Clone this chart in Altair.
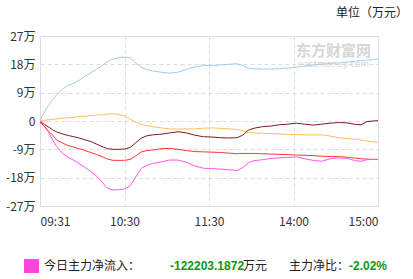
import altair as alt
import pandas as pd

minutes = [0, 3, 6, 9, 12, 16, 20, 24, 28, 32, 36, 40, 44, 48, 52, 56, 60, 64, 68, 72, 76, 80, 86, 92, 98,
           104, 110, 116, 122, 128, 134, 140, 144, 148, 152, 158, 164, 170, 176, 182, 188, 194, 200, 206,
           212, 218, 224, 228, 232, 236, 240]

small = [0.3, 2.8, 5.0, 6.8, 8.4, 10.2, 11.3, 12.0, 13.0, 14.2, 15.3, 16.4, 17.6, 18.9, 19.7, 20.1, 20.3,
         20.1, 18.4, 17.0, 16.3, 15.9, 15.5, 15.2, 15.5, 16.4, 17.2, 17.6, 17.6, 17.8, 18.0, 18.2, 17.6,
         16.8, 16.6, 16.5, 16.5, 16.6, 16.8, 17.1, 17.4, 17.8, 18.1, 18.3, 18.5, 18.7, 19.0, 19.2, 19.3,
         19.5, 19.7]
medium = [0.0, 0.2, 0.4, 0.5, 0.7, 0.9, 1.0, 1.2, 1.4, 1.5, 1.7, 1.9, 2.0, 2.2, 2.3, 2.0, 1.6, 0.6, -0.4,
          -1.1, -1.5, -1.8, -2.2, -2.5, -2.6, -2.5, -2.5, -2.3, -2.2, -2.3, -2.5, -2.7, -3.1, -3.6, -3.8,
          -3.9, -4.0, -4.1, -4.3, -4.3, -4.4, -4.4, -4.4, -4.8, -5.3, -5.6, -5.8, -6.0, -6.3, -6.6, -6.8]
large = [-0.2, -1.0, -1.9, -2.8, -3.5, -4.1, -4.6, -5.0, -5.4, -6.0, -6.5, -7.3, -8.1, -8.8, -9.0, -9.0,
         -8.9, -8.4, -6.9, -5.4, -4.7, -4.4, -4.2, -3.8, -3.4, -3.8, -4.5, -5.0, -5.1, -5.3, -5.4, -5.3,
         -4.5, -2.9, -2.3, -1.8, -1.6, -1.2, -1.0, -0.7, -1.0, -1.3, -1.0, -0.7, -0.5, -0.6, -1.1, -1.2,
         -0.2, 0.0, 0.1]
super_large = [-0.3, -1.6, -3.2, -4.5, -6.1, -7.0, -7.8, -8.3, -8.8, -9.4, -10.0, -10.6, -11.3, -12.1,
               -12.5, -12.5, -12.5, -12.2, -11.1, -9.8, -9.4, -9.2, -8.8, -8.7, -9.0, -9.4, -9.7, -9.8,
               -9.9, -10.0, -10.2, -10.4, -10.3, -10.3, -10.3, -10.4, -10.5, -10.6, -10.7, -10.8, -10.9,
               -11.0, -11.2, -11.3, -11.3, -11.5, -11.8, -12.0, -12.1, -12.2, -12.2]
main = [-0.4, -1.8, -3.5, -6.0, -8.2, -10.3, -11.5, -12.5, -13.6, -14.8, -16.0, -17.4, -19.4, -21.4, -21.9,
        -21.8, -21.6, -20.6, -17.8, -15.0, -14.0, -13.5, -13.0, -12.4, -12.4, -13.1, -14.3, -15.0, -15.1,
        -15.3, -15.5, -15.7, -14.8, -13.3, -12.6, -12.3, -11.9, -11.7, -11.6, -11.4, -12.0, -12.5, -12.8,
        -12.0, -11.7, -11.9, -12.6, -12.8, -12.3, -12.2, -12.2]

series_names = ["小单", "中单", "大单", "超大单", "主力"]
series_values = [small, medium, large, super_large, main]
series_colors = ["#a3cbef", "#ffbf5e", "#7a1c1c", "#ff3535", "#ff55e8"]

y_ticks = [-27, -18, -9, 0, 9, 18, 27]
x_ticks = [0, 60, 120, 180, 240]
x_labels = ["09:31", "10:30", "11:30", "14:00", "15:00"]

rows = []
for name, vals in zip(series_names, series_values):
    for m, v in zip(minutes, vals):
        rows.append({"m": m, "v": v, "s": name})
df = pd.DataFrame(rows)

label_expr = " : ".join(
    f"datum.value == {t} ? '{l}'" for t, l in zip(x_ticks, x_labels)
) + " : ''"

FONT = "Noto Sans CJK SC"

lines = alt.Chart(df).mark_line(strokeWidth=1).encode(
    x=alt.X("m:Q", scale=alt.Scale(domain=[0, 240], nice=False),
            axis=alt.Axis(values=x_ticks, labelExpr=label_expr, title=None, domain=False, ticks=False,
                          grid=True, gridDash=[4, 3], gridColor="#dddddd", labelPadding=10,
                          labelFontSize=12, labelColor="#333333", labelFont=FONT)),
    y=alt.Y("v:Q", scale=alt.Scale(domain=[-27, 27], nice=False),
            axis=alt.Axis(values=y_ticks, labelExpr="datum.value == 0 ? '0' : datum.value + '万'",
                          title=None, domain=False, ticks=False, grid=True, gridDash=[4, 3],
                          gridColor="#dddddd", labelPadding=5, labelFontSize=12,
                          labelColor="#333333", labelFont=FONT)),
    color=alt.Color("s:N", scale=alt.Scale(domain=series_names, range=series_colors), legend=None),
    detail="s:N",
    order=alt.Order("m:Q"),
)

def txt(text, x, y, size=12, color="#222222", weight="normal", align="left", font=FONT):
    return alt.Chart(pd.DataFrame({"a": [0]})).mark_text(
        align=align, baseline="middle", fontSize=size, color=color, fontWeight=weight, font=font
    ).encode(x=alt.value(x), y=alt.value(y), text=alt.value(text))

green = "#149414"
square = alt.Chart(pd.DataFrame({"a": [0]})).mark_rect(color="#ff44e0").encode(
    x=alt.value(-16), x2=alt.value(-1), y=alt.value(223), y2=alt.value(237)
)

chart = alt.layer(
    lines,
    txt("东方财富网", 256, 15, size=15, color="#d6d6d6", weight="bold"),
    txt("eastmoney.com", 258, 28, size=9, color="#d6d6d6", font="DejaVu Sans"),
    txt("单位（万元）", 368, -23, size=12, align="right"),
    square,
    txt("今日主力净流入：", 4, 230, size=12),
    txt("-122203.1872", 130, 230, size=12, color=green, weight="bold", font="Liberation Sans"),
    txt("万元", 203, 230, size=12),
    txt("主力净比：", 249, 230, size=12),
    txt("-2.02%", 309, 230, size=12, color=green, weight="bold", font="Liberation Sans"),
).properties(
    width=338, height=170,
    autosize=alt.AutoSizeParams(type="none"),
    padding={"left": 40, "top": 36, "right": 35, "bottom": 73},
).configure_view(stroke="#c8c8c8", strokeWidth=1).configure(background="white")

chart.save("out.html", embed_options={"renderer": "svg", "actions": False})
